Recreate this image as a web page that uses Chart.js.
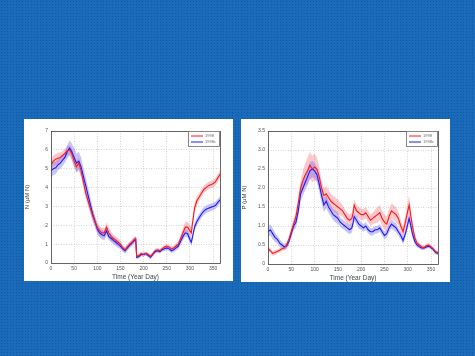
<!DOCTYPE html>
<html><head><meta charset="utf-8">
<script src="https://cdn.jsdelivr.net/npm/chart.js@4"></script>
<style>
html,body{margin:0;padding:0;}
body{width:475px;height:356px;overflow:hidden;position:relative;
background-color:#196ab8;
background-image:radial-gradient(rgba(10,70,140,0.45) 0.5px, transparent 0.8px),radial-gradient(rgba(60,130,210,0.35) 0.5px, transparent 0.8px);
background-size:3px 3px,5px 4px;background-position:0 0,2px 1px;}
.panel{position:absolute;background:#fff;}
</style></head>
<body>
<div class="panel" style="left:24px;top:119px;width:209px;height:162px;"><canvas id="c1" width="209" height="162"></canvas></div>
<div class="panel" style="left:241px;top:119px;width:209px;height:163px;"><canvas id="c2" width="209" height="163"></canvas></div>
<script>
const days = [0,5,10,15,20,25,30,35,40,45,50,55,60,65,70,75,80,85,90,95,100,105,110,115,120,125,130,135,140,145,150,155,160,165,170,175,180,183,185,190,195,200,205,210,215,220,225,230,235,240,245,250,255,260,265,270,275,280,285,290,295,300,303,305,310,315,320,325,330,335,340,345,350,355,360,365];
const seriesNames = ["1998","1998c"];
const xTicks = [0,50,100,150,200,250,300,350];

const n1998  = [5.2,5.4,5.5,5.55,5.6,5.7,5.8,5.95,6.0,5.8,5.4,5.1,5.3,4.9,4.3,3.7,3.3,2.9,2.5,2.2,1.9,1.7,1.6,1.6,1.9,1.6,1.4,1.3,1.2,1.1,1.0,0.8,0.7,0.85,1.0,1.1,1.25,1.3,0.35,0.4,0.5,0.45,0.5,0.45,0.35,0.5,0.65,0.7,0.65,0.75,0.85,0.9,0.85,0.75,0.8,0.9,1.0,1.3,1.6,1.9,1.9,1.7,1.6,2.0,2.9,3.3,3.5,3.7,3.9,4.0,4.1,4.15,4.2,4.3,4.5,4.7];
const n1998c = [4.9,5.0,5.05,5.2,5.3,5.45,5.6,5.9,6.1,5.9,5.6,5.3,5.4,5.1,4.6,4.1,3.6,3.1,2.6,2.2,1.8,1.6,1.5,1.45,1.7,1.4,1.3,1.2,1.1,1.0,0.9,0.75,0.65,0.8,0.95,1.05,1.2,1.25,0.3,0.35,0.45,0.45,0.5,0.4,0.3,0.45,0.6,0.65,0.6,0.7,0.75,0.8,0.75,0.65,0.7,0.8,0.9,1.15,1.4,1.6,1.55,1.25,1.1,1.3,1.9,2.2,2.4,2.6,2.75,2.85,2.9,2.95,3.0,3.05,3.2,3.35];
const nSpread1998  = [0.3,0.3,0.3,0.3,0.25,0.25,0.25,0.25,0.25,0.3,0.3,0.3,0.3,0.3,0.3,0.3,0.3,0.3,0.3,0.25,0.25,0.25,0.25,0.25,0.25,0.25,0.25,0.2,0.2,0.2,0.2,0.15,0.15,0.15,0.15,0.15,0.15,0.15,0.1,0.1,0.1,0.1,0.1,0.1,0.1,0.1,0.1,0.1,0.1,0.1,0.12,0.12,0.12,0.12,0.12,0.15,0.15,0.2,0.25,0.3,0.3,0.3,0.3,0.3,0.3,0.25,0.2,0.2,0.2,0.2,0.2,0.2,0.2,0.2,0.2,0.2];
const nSpread1998c = [0.35,0.35,0.35,0.3,0.3,0.3,0.3,0.35,0.4,0.45,0.5,0.5,0.5,0.5,0.45,0.45,0.45,0.4,0.35,0.3,0.3,0.25,0.25,0.25,0.25,0.2,0.2,0.2,0.2,0.2,0.15,0.15,0.15,0.15,0.15,0.15,0.15,0.15,0.1,0.1,0.1,0.1,0.1,0.1,0.1,0.1,0.1,0.1,0.1,0.1,0.12,0.12,0.12,0.12,0.12,0.15,0.15,0.2,0.2,0.2,0.2,0.2,0.2,0.2,0.2,0.2,0.2,0.2,0.2,0.2,0.2,0.2,0.2,0.2,0.2,0.2];

const p1998  = [0.4,0.35,0.28,0.3,0.33,0.36,0.4,0.42,0.5,0.65,0.85,1.05,1.25,1.6,2.0,2.2,2.35,2.45,2.6,2.5,2.55,2.5,2.3,2.0,1.8,1.85,1.75,1.65,1.6,1.55,1.5,1.45,1.4,1.3,1.2,1.15,1.2,1.35,1.55,1.4,1.35,1.3,1.3,1.35,1.25,1.15,1.2,1.25,1.3,1.35,1.2,1.1,1.05,1.25,1.4,1.35,1.3,1.2,1.0,0.85,1.1,1.4,1.55,1.4,1.0,0.7,0.55,0.5,0.45,0.43,0.48,0.5,0.45,0.4,0.32,0.3];
const p1998c = [0.85,0.9,0.8,0.7,0.65,0.55,0.5,0.45,0.47,0.6,0.8,1.0,1.1,1.4,1.85,2.0,2.15,2.3,2.45,2.5,2.45,2.35,2.1,1.8,1.55,1.65,1.5,1.4,1.3,1.25,1.2,1.1,1.05,1.0,0.95,0.9,0.95,1.1,1.25,1.15,1.05,1.0,0.95,1.0,0.9,0.85,0.85,0.9,0.9,0.95,0.85,0.75,0.8,0.95,1.05,1.0,0.95,0.85,0.75,0.62,0.8,1.05,1.2,1.1,0.8,0.6,0.5,0.45,0.42,0.42,0.45,0.47,0.43,0.38,0.3,0.28];
const pSpread1998  = [0.06,0.06,0.06,0.06,0.06,0.06,0.06,0.06,0.08,0.1,0.12,0.15,0.15,0.18,0.2,0.25,0.3,0.35,0.35,0.35,0.35,0.3,0.25,0.2,0.2,0.2,0.2,0.2,0.2,0.2,0.2,0.18,0.15,0.15,0.15,0.15,0.15,0.15,0.15,0.15,0.15,0.15,0.15,0.15,0.15,0.15,0.15,0.18,0.2,0.2,0.2,0.2,0.2,0.2,0.2,0.2,0.2,0.18,0.15,0.15,0.18,0.22,0.25,0.22,0.15,0.1,0.08,0.06,0.06,0.05,0.05,0.05,0.05,0.05,0.05,0.05];
const pSpread1998c = [0.12,0.15,0.15,0.12,0.1,0.1,0.08,0.08,0.08,0.1,0.1,0.12,0.15,0.18,0.2,0.2,0.2,0.22,0.22,0.22,0.2,0.2,0.2,0.2,0.18,0.18,0.15,0.15,0.15,0.15,0.15,0.12,0.12,0.12,0.12,0.12,0.12,0.12,0.12,0.12,0.12,0.1,0.1,0.1,0.1,0.1,0.1,0.1,0.1,0.1,0.1,0.1,0.1,0.12,0.12,0.12,0.12,0.1,0.1,0.1,0.1,0.12,0.12,0.12,0.1,0.08,0.06,0.05,0.05,0.05,0.05,0.05,0.05,0.05,0.05,0.05];

const RED = '#ff1a1a', BLUE = '#1a1aff';
const RED_BAND = 'rgba(245,110,120,0.38)', BLUE_BAND = 'rgba(110,100,240,0.38)';

function pts(vals, spr, sign){
  return days.map((d,i)=>({x:d, y: spr ? vals[i] + sign*spr[i] : vals[i]}));
}
function bandSets(vals, spr, color, ord){
  return [
    {data:pts(vals,spr,1), borderWidth:0, pointRadius:0, fill:false, order:ord},
    {data:pts(vals,spr,-1), borderWidth:0, pointRadius:0, fill:'-1', backgroundColor:color, order:ord}
  ];
}
const framePlugin = {
  id:'frame',
  afterDraw(chart){
    const {ctx, chartArea:a} = chart;
    ctx.save();
    ctx.strokeStyle='#444'; ctx.lineWidth=0.8;
    ctx.strokeRect(a.left+0.5, a.top+0.5, a.right-a.left, a.bottom-a.top);
    const w=32, h=16, x=a.right-w, y=a.top;
    ctx.fillStyle='#fff'; ctx.fillRect(x,y,w,h);
    ctx.strokeStyle='#555'; ctx.lineWidth=0.7;
    ctx.strokeRect(x+0.5,y+0.5,w-1,h-1);
    const items=[[seriesNames[0],RED],[seriesNames[1],BLUE]];
    ctx.font='4px Arial'; ctx.textBaseline='middle';
    items.forEach((it,i)=>{
      const yy=y+5+i*6;
      ctx.strokeStyle=it[1]; ctx.lineWidth=1;
      ctx.beginPath(); ctx.moveTo(x+3,yy); ctx.lineTo(x+15,yy); ctx.stroke();
      ctx.fillStyle='#666'; ctx.fillText(it[0], x+17, yy);
    });
    ctx.restore();
  }
};
function makeChart(id, a, b, sa, sb, ymax, ystep, ytitle, yw, rightPad){
  new Chart(document.getElementById(id), {
    type:'line',
    data:{datasets:[
      {label:seriesNames[0], data:pts(a), borderColor:RED, borderWidth:1.1, pointRadius:0, fill:false, order:0},
      {label:seriesNames[1], data:pts(b), borderColor:BLUE, borderWidth:1.1, pointRadius:0, fill:false, order:1},
      ...bandSets(a, sa, RED_BAND, 3),
      ...bandSets(b, sb, BLUE_BAND, 2)
    ]},
    options:{
      responsive:false, animation:false, events:[],
      layout:{padding:{left:0, top:12, right:rightPad, bottom:0}},
      plugins:{legend:{display:false}, tooltip:{enabled:false}},
      scales:{
        x:{type:'linear', min:0, max:365,
          afterBuildTicks(s){ s.ticks = xTicks.map(v=>({value:v})); },
          afterFit(s){ s.height=18; },
          grid:{color:'#c4c4c4', lineWidth:0.7, tickLength:0, drawTicks:false},
          border:{display:false, dash:[1,1.5]},
          ticks:{font:{size:5, family:'Arial'}, color:'#555', padding:3, maxRotation:0, autoSkip:false},
          title:{display:true, text:'Time (Year Day)', font:{size:6.5, family:'Arial'}, color:'#444', padding:{top:0,bottom:0}}
        },
        y:{min:0, max:ymax,
          ticks:{stepSize:ystep, font:{size:5, family:'Arial'}, color:'#555', padding:3},
          afterFit(s){ s.width=yw; },
          grid:{color:'#c4c4c4', lineWidth:0.7, drawTicks:false},
          border:{display:false, dash:[1,1.5]},
          title:{display:true, text:ytitle, font:{size:6, family:'Arial'}, color:'#444', padding:{top:0,bottom:2}}
        }
      }
    },
    plugins:[framePlugin]
  });
}
makeChart('c1', n1998, n1998c, nSpread1998, nSpread1998c, 7, 1, 'N (\u03bcM N)', 27, 13);
makeChart('c2', p1998, p1998c, pSpread1998, pSpread1998c, 3.5, 0.5, 'P (\u03bcM N)', 27, 12);
</script>
</body></html>
